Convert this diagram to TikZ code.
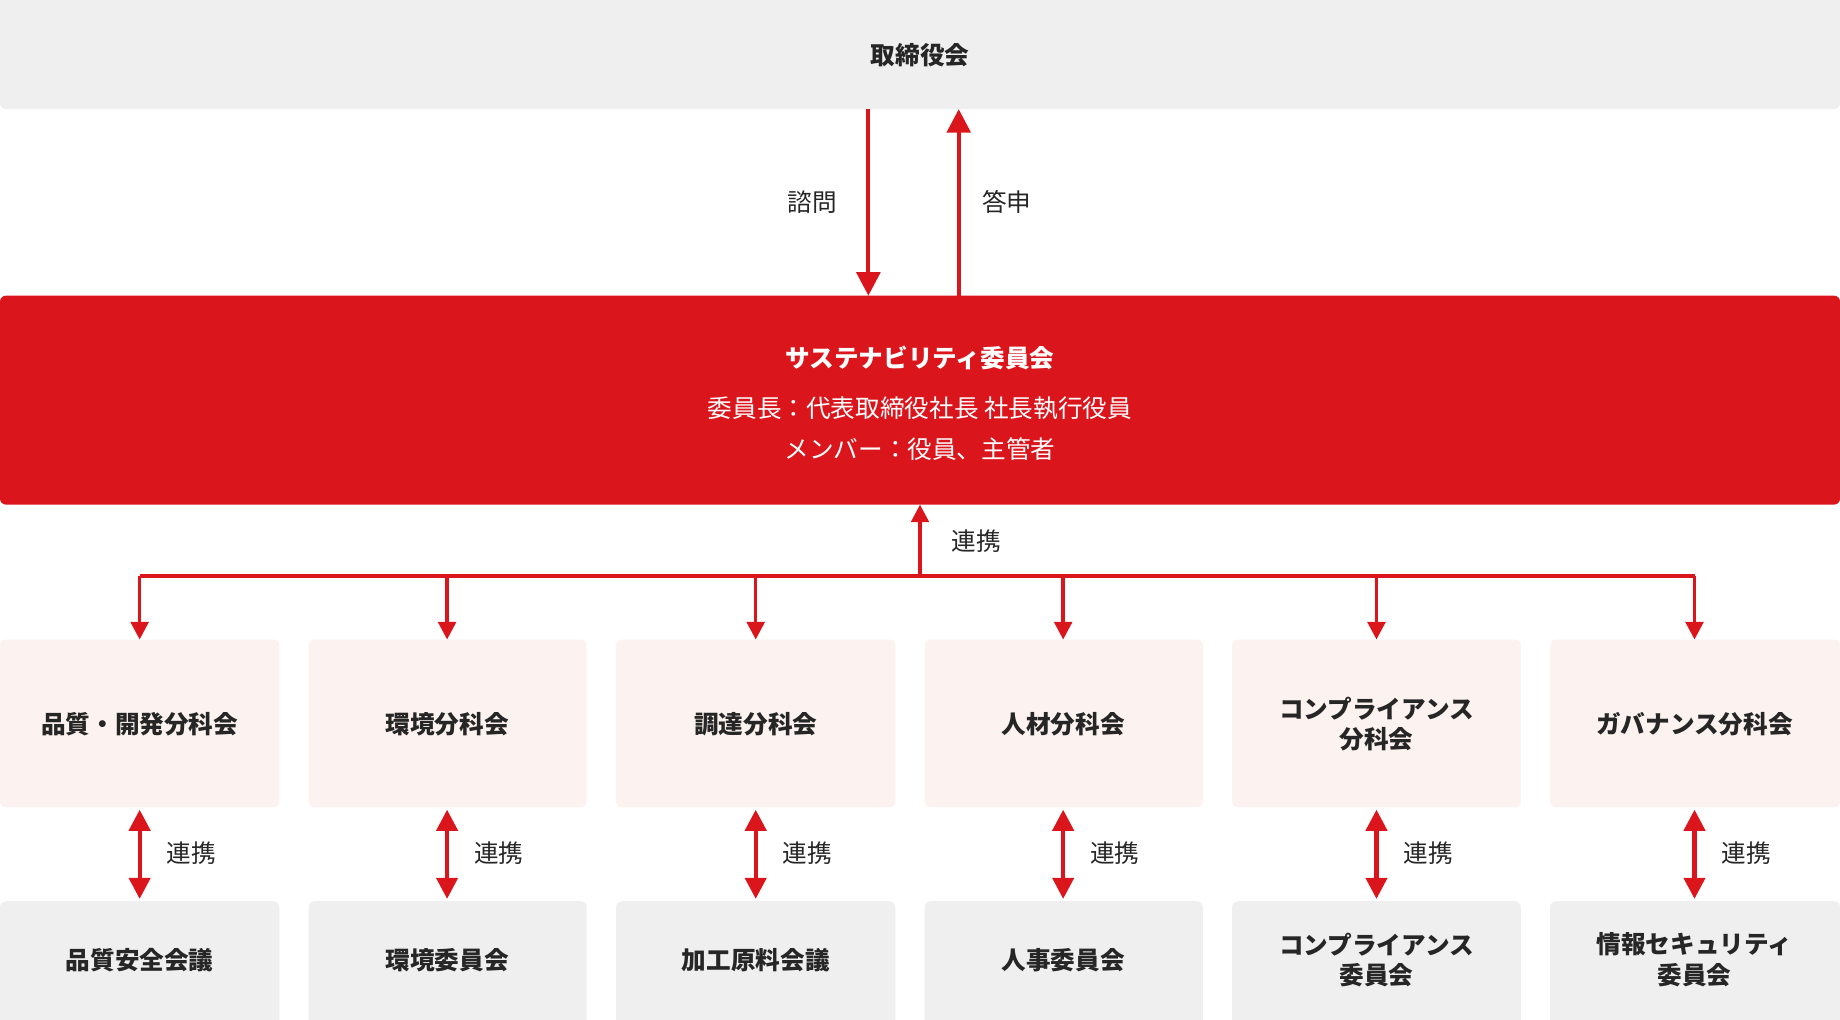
\documentclass[tikz,border=0pt]{standalone}
\usepackage{fontspec}
\setmainfont{Noto Sans CJK JP}
\usetikzlibrary{arrows.meta}
\definecolor{grayb}{HTML}{EFEFEF}
\definecolor{redb}{HTML}{DA151C}
\definecolor{pinkb}{HTML}{FCF2EF}
\tikzset{
  box/.style={rounded corners=5pt,inner sep=0pt,font=\fontsize{21}{26}\selectfont\bfseries,align=center,text=black!85},
  arr/.style={redb,line width=3.5pt,-{Triangle[width=20pt,length=20pt]}},
  darr/.style={redb,line width=3.5pt,{Triangle[width=18pt,length=18pt]}-{Triangle[width=18pt,length=18pt]}},
  sarr/.style={redb,line width=3pt,-{Triangle[width=15pt,length=15pt]}},
  lbl/.style={font=\fontsize{21}{26}\selectfont,text=black!85}
}
\begin{document}
\begin{tikzpicture}[x=1pt,y=-1pt]
\useasboundingbox (0,0) rectangle (1568,869);
\fill[grayb,rounded corners=5pt] (0,-10) rectangle (1568,93);
\node[box] (top) at (784,47) {取締役会};
\coordinate (topb) at (784,93);
\fill[redb,rounded corners=5pt] (0,252) rectangle (1568,430);
\node[box,text=white] (red) at (784,305) {サステナビリティ委員会};
\node[lbl,text=white] (r1) at (784,348) {委員長：代表取締役社長 社長執行役員};
\node[lbl,text=white] (r2) at (784,383) {メンバー：役員、主管者};
\coordinate (a1) at (740,93); \coordinate (a2) at (740,252);
\coordinate (b1) at (817,252); \coordinate (b2) at (817,93);
\draw[arr] (a1) -- (a2);
\draw[arr] (b1) -- (b2);
\node[lbl] (q) at (692,172) {諮問};
\node[lbl] (ans) at (858,172) {答申};
\coordinate (h) at (784,491); \coordinate (rb) at (784,430);
\draw[sarr] (h) -- (rb);
\node[lbl] (rl) at (832,461) {連携};
\coordinate (hl) at (119,491); \coordinate (hr) at (1444,491);
\draw[redb,line width=3pt] (hl) -- (hr);
\foreach \xa/\xb/\c/\t/\bt [count=\i] in {
 0/238/119/品質・開発分科会/品質安全会議,
 263/500/381/環境分科会/環境委員会,
 525/763/644/調達分科会/加工原料会議,
 788/1025/906/人材分科会/人事委員会,
 1050/1296/1173/{コンプライアンス\\分科会}/{コンプライアンス\\委員会},
 1321/1568/1444/ガバナンス分科会/{情報セキュリティ\\委員会}} {
  \fill[pinkb,rounded corners=5pt] (\xa,545) rectangle (\xb,688);
  \node[box] (s\i) at (\c,617) {\t};
  \fill[grayb,rounded corners=5pt] (\xa,768) rectangle (\xb,880);
  \node[box] (b\i) at (\c,818) {\bt};
  \coordinate (t\i) at (\c,491); \coordinate (u\i) at (\c,545);
  \draw[sarr] (t\i) -- (u\i);
  \coordinate (d1\i) at (\c,690); \coordinate (d2\i) at (\c,766);
  \draw[darr] (d1\i) -- (d2\i);
  \node[lbl] (l\i) at (\c+44,727) {連携};
}
\end{tikzpicture}
\end{document}
